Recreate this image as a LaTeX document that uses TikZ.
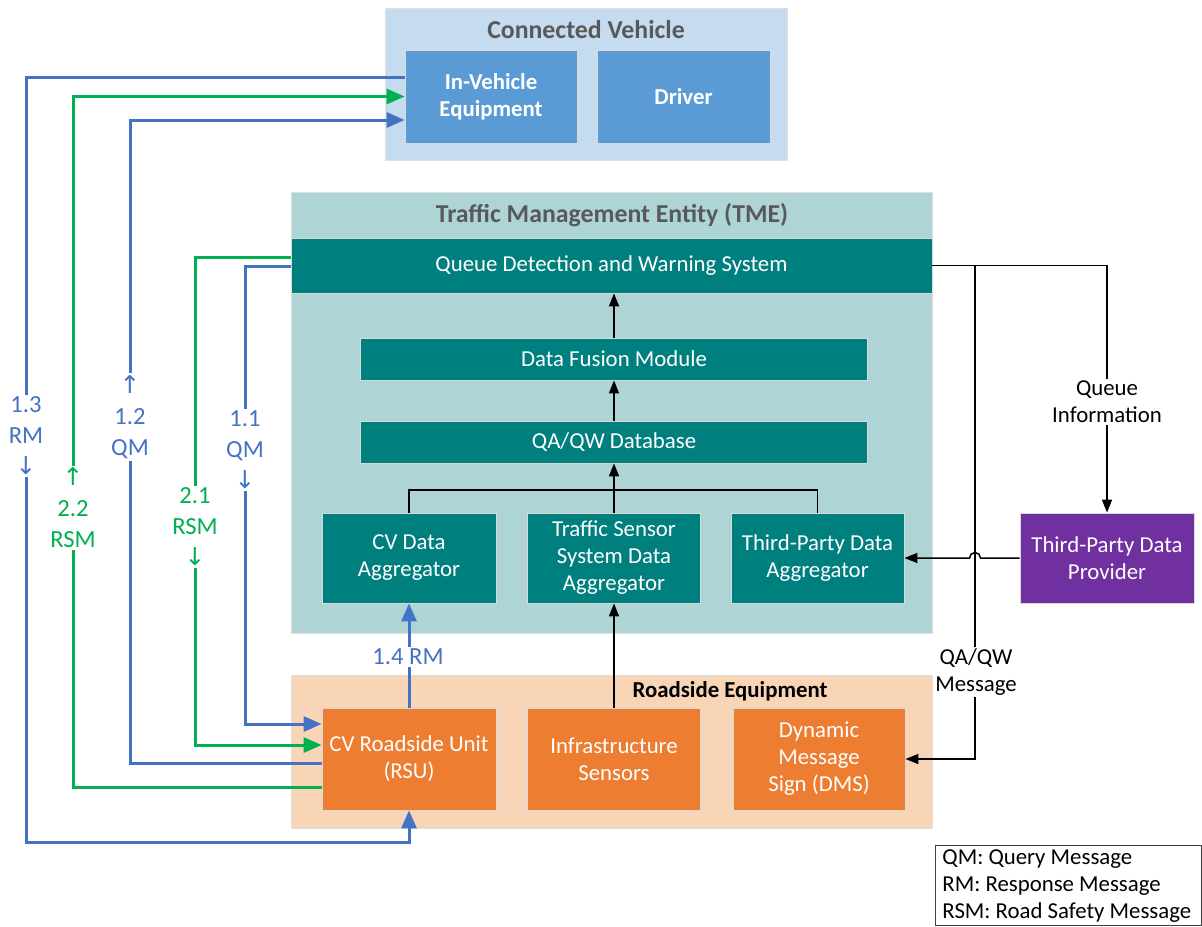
\documentclass[tikz,border=0pt]{standalone}
\usepackage{fontspec}
\setmainfont{Carlito}
\newfontfamily\arrowfont{DejaVu Sans}
\usepackage{tikz}
\usetikzlibrary{arrows.meta,calc}
\definecolor{cvlight}{HTML}{C5DBEF}
\definecolor{cvblue}{HTML}{5B9BD5}
\definecolor{tmelight}{HTML}{AED4D6}
\definecolor{tmeteal}{HTML}{007F7F}
\definecolor{rselight}{HTML}{F9D5B8}
\definecolor{rseorange}{HTML}{ED7D31}
\definecolor{tpviolet}{HTML}{7030A0}
\definecolor{qmblue}{HTML}{4472C4}
\definecolor{rsmgreen}{HTML}{00B050}
\definecolor{titlegray}{HTML}{595959}
\newcommand{\boxfont}{\fontsize{11.4}{13.5}\selectfont}
\newcommand{\msgfont}{\fontsize{12.3}{15.5}\selectfont}
\newcommand{\headfont}{\fontsize{12.9}{15}\selectfont\bfseries}
\newcommand{\up}{{\arrowfont ↑}}
\newcommand{\down}{{\arrowfont ↓}}

\begin{document}
\begin{tikzpicture}[x=0.5pt,y=-0.5pt]
        %
        % `group' is the light background of each entity.
        % `block' is a filled box inside a group.
        % `msg' is a numbered message line, `flow' a plain black one.
        \tikzstyle{group} = [draw=black!12,inner sep=0pt]
        \tikzstyle{block} = [draw=black!15,text=white,align=center,inner sep=2pt,font=\boxfont]
        \tikzstyle{head} = [font=\headfont,text=titlegray]
        \tikzstyle{msg} = [line width=1.5pt,-{Triangle[length=9pt,width=7.5pt]}]
        \tikzstyle{flow} = [line width=0.75pt,-{Triangle[length=6.5pt,width=5pt]}]
        \tikzstyle{lbl} = [fill=white,inner sep=1pt,align=center,font=\msgfont]
        %
        \useasboundingbox (0,0) rectangle (1202,926);
        %
        % Connected Vehicle
        \node[group,fill=cvlight,minimum width=201pt,minimum height=76pt] (cv) at (586,84) {};
        \node[head] (cvtitle) at (586,30) {Connected Vehicle};
        \node[block,fill=cvblue,font=\boxfont\bfseries,minimum width=86pt,minimum height=46.5pt] (ive) at (491,96.5) {In-Vehicle\\Equipment};
        \node[block,fill=cvblue,font=\boxfont\bfseries,minimum width=86.5pt,minimum height=46.5pt] (driver) at (683.5,96.5) {Driver};
        %
        % Traffic Management Entity
        \node[group,fill=tmelight,minimum width=320.5pt,minimum height=220.5pt] (tme) at (611.5,412.5) {};
        \node[head] (tmetitle) at (612,215) {Traffic Management Entity (TME)};
        \node[block,fill=tmeteal,minimum width=320.5pt,minimum height=27.5pt] (qdws) at (611.5,265.5) {Queue Detection and Warning System};
        \node[block,fill=tmeteal,minimum width=253.5pt,minimum height=21pt] (dfm) at (614,359) {Data Fusion Module};
        \node[block,fill=tmeteal,minimum width=253.5pt,minimum height=21pt] (db) at (614,442) {QA/QW Database};
        \node[block,fill=tmeteal,minimum width=87pt,minimum height=45pt] (cvagg) at (409,558) {CV Data\\Aggregator};
        \node[block,fill=tmeteal,minimum width=86.5pt,minimum height=45pt] (tsagg) at (614,558) {Traffic Sensor\\System Data\\Aggregator};
        \node[block,fill=tmeteal,minimum width=86.5pt,minimum height=45pt] (tpagg) at (817.5,558) {Third-Party Data\\Aggregator};
        %
        % Roadside Equipment
        \node[group,fill=rselight,minimum width=320.5pt,minimum height=76.5pt] (rse) at (611.5,751.5) {};
        \node[font=\boxfont\bfseries] (rsetitle) at (730,691) {Roadside Equipment};
        \node[block,fill=rseorange,minimum width=87pt,minimum height=51pt] (rsu) at (409,759) {CV Roadside Unit\\(RSU)};
        \node[block,fill=rseorange,minimum width=86.5pt,minimum height=51pt] (infra) at (614,759) {Infrastructure\\Sensors};
        \node[block,fill=rseorange,minimum width=86pt,minimum height=51pt] (dms) at (819,759) {Dynamic\\Message\\Sign (DMS)};
        %
        % Third party
        \node[block,fill=tpviolet,minimum width=87pt,minimum height=45pt] (tpdp) at (1107,558) {Third-Party Data\\Provider};
        %
        % Data flow inside the TME
        \coordinate (merge) at (614,490);
        \draw[line width=0.75pt] (cvagg.north) |- (merge) -| (tpagg.north);
        \draw[flow] (tsagg.north) -- (db.south);
        \draw[flow] (db.north) -- (dfm.south);
        \draw[flow] (dfm.north) -- (dfm.north |- qdws.south);
        \draw[flow] (infra.north) -- (tsagg.south);
        %
        % Queue information and QA/QW message
        \coordinate (split) at (975,265.5);
        \draw[flow] (qdws.east) -| (tpdp.north);
        \draw[flow] (split) |- (dms.east);
        \draw[flow] (tpdp.west) -- (980.5,558) arc[start angle=0,end angle=180,radius=2.75pt] -- (tpagg.east);
        %
        % Numbered messages
        \draw[msg,draw=qmblue] (ive.west |- 0,77) -| (26,842) -| (rsu.south);
        \draw[msg,draw=rsmgreen] (rsu.west |- 0,787) -| (73,96.5) -- (ive.west);
        \draw[msg,draw=qmblue] (rsu.west |- 0,763) -| (130,120) -- (ive.west |- 0,120);
        \draw[msg,draw=rsmgreen] (qdws.west |- 0,257) -| (195,745) -- (rsu.west |- 0,745);
        \draw[msg,draw=qmblue] (qdws.west |- 0,266) -| (245,724) -- (rsu.west |- 0,724);
        \draw[msg,draw=qmblue] (rsu.north) -- (cvagg.south);
        %
        % Labels
        \node[lbl,text=qmblue] (m13) at (26,436) {1.3\\RM\\\down};
        \node[lbl,text=rsmgreen] (m22) at (73,508) {\up\\2.2\\RSM};
        \node[lbl,text=qmblue] (m12) at (130,417) {\up\\1.2\\QM};
        \node[lbl,text=rsmgreen] (m21) at (195,527) {2.1\\RSM\\\down};
        \node[lbl,text=qmblue] (m11) at (245,450) {1.1\\QM\\\down};
        \node[lbl,text=qmblue] (m14) at (408,657) {1.4 RM};
        \node[lbl,font=\boxfont] (qinfo) at (1107,402) {Queue\\Information};
        \node[lbl,font=\boxfont] (qmsg) at (976,672) {QA/QW\\Message};
        %
        % Legend
        \node[draw=black!75,anchor=north west,minimum width=133pt,minimum height=40pt,inner sep=0pt] (legend) at (935,845) {};
        \node[anchor=west,align=left,inner sep=0pt,font=\boxfont] (legendtext) at (942,886)
        {QM: Query Message\\RM: Response Message\\RSM: Road Safety Message};
        %
\end{tikzpicture}
\end{document}
